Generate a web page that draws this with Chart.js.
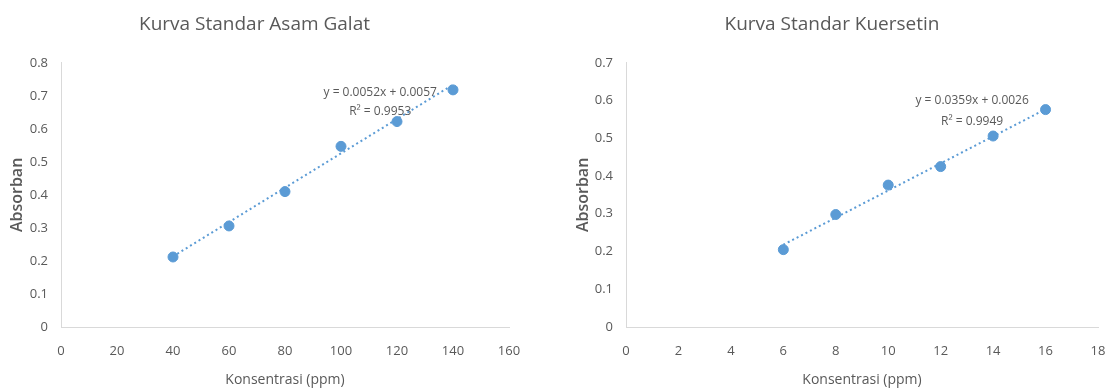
<!DOCTYPE html>
<html>
<head>
<meta charset="utf-8">
<script src="https://cdn.jsdelivr.net/npm/chart.js@4/dist/chart.umd.min.js"></script>
<style>
  body { margin: 0; background: #fff; }
  .box { position: absolute; top: 0; height: 390px; }
</style>
</head>
<body>
<div class="box" style="left:0;width:524px"><canvas id="galat"></canvas></div>
<div class="box" style="left:566px;width:544px"><canvas id="kuer"></canvas></div>
<script>
// Asam galat
const galatX = [40, 60, 80, 100, 120, 140];
const galatY = [0.212, 0.306, 0.41, 0.547, 0.622, 0.718];
const galatSlope = 0.0052, galatIntercept = 0.0057;
const galatEq = ["y = 0.0052x + 0.0057", "R² = 0.9953"];
const galatXTicks = [0, 160, 20];
const galatYTicks = [0, 0.8, 0.1];

// Kuersetin
const kuerX = [6, 8, 10, 12, 14, 16];
const kuerY = [0.205, 0.298, 0.376, 0.425, 0.506, 0.576];
const kuerSlope = 0.0359, kuerIntercept = 0.0026;
const kuerEq = ["y = 0.0359x + 0.0026", "R² = 0.9949"];
const kuerXTicks = [0, 18, 2];
const kuerYTicks = [0, 0.7, 0.1];

const blue = "#5B9BD5";
const grey = "#595959";
const axisLine = "#D9D9D9";

// writes the trendline equation, placed in data units
const eqLabel = {
  id: "eqLabel",
  afterDatasetsDraw(chart, args, opts) {
    const { ctx, scales } = chart;
    ctx.save();
    ctx.font = "12px 'Open Sans'";
    ctx.fillStyle = grey;
    ctx.textAlign = "center";
    ctx.textBaseline = "middle";
    opts.lines.forEach((t, i) => {
      ctx.fillText(t, scales.x.getPixelForValue(opts.at[i][0]), scales.y.getPixelForValue(opts.at[i][1]));
    });
    ctx.restore();
  }
};

function makeChart(id, title, xs, ys, slope, intercept, eq, eqAt, xt, yt, yWidth, padRight) {
  const pts = xs.map((x, i) => ({ x: x, y: ys[i] }));
  const x0 = Math.min(...xs), x1 = Math.max(...xs);
  const trend = [{ x: x0, y: slope * x0 + intercept }, { x: x1, y: slope * x1 + intercept }];
  return new Chart(document.getElementById(id), {
    type: "scatter",
    plugins: [eqLabel],
    data: {
      datasets: [
        { data: pts, backgroundColor: blue, borderColor: blue, pointRadius: 5, pointHoverRadius: 5, order: 1 },
        { data: trend, showLine: true, pointRadius: 0, borderColor: blue, borderWidth: 2,
          borderDash: [2, 3], order: 2 }
      ]
    },
    options: {
      responsive: true,
      maintainAspectRatio: false,
      animation: false,
      layout: { padding: { left: 0, right: padRight, top: 0, bottom: 0 } },
      plugins: {
        legend: { display: false },
        tooltip: { enabled: false },
        title: {
          display: true, text: title, color: grey,
          font: { family: "'Open Sans'", size: 19, weight: "normal" },
          padding: { top: 13, bottom: 27 }
        },
        eqLabel: { lines: eq, at: eqAt }
      },
      scales: {
        x: {
          type: "linear", min: xt[0], max: xt[1],
          afterFit: s => { s.height = 63; s.paddingLeft = 0; s.paddingRight = 0; },
          ticks: { stepSize: xt[2], color: grey, padding: 16, font: { family: "'Open Sans'", size: 13 } },
          grid: { drawOnChartArea: false, drawTicks: false },
          border: { color: axisLine, width: 1 },
          title: { display: true, text: "Konsentrasi (ppm)", color: grey,
            font: { family: "'Open Sans'", size: 14 }, padding: { top: 0, bottom: 2 } }
        },
        y: {
          min: yt[0], max: yt[1],
          afterFit: s => { s.width = yWidth; s.paddingTop = 0; s.paddingBottom = 0; },
          ticks: { stepSize: yt[2], color: grey, padding: 13, font: { family: "'Open Sans'", size: 13 } },
          grid: { drawOnChartArea: false, drawTicks: false },
          border: { color: axisLine, width: 1 },
          title: { display: true, text: "Absorban", color: grey,
            font: { family: "'Open Sans'", size: 16, weight: "600" }, padding: { top: 8, bottom: 0 } }
        }
      }
    }
  });
}

makeChart("galat", "Kurva Standar Asam Galat", galatX, galatY, galatSlope, galatIntercept,
  galatEq, [[114, 0.71], [114, 0.652]], galatXTicks, galatYTicks, 61, 15);
makeChart("kuer", "Kurva Standar Kuersetin", kuerX, kuerY, kuerSlope, kuerIntercept,
  kuerEq, [[13.2, 0.599], [13.2, 0.544]], kuerXTicks, kuerYTicks, 60, 12);
</script>
</body>
</html>
